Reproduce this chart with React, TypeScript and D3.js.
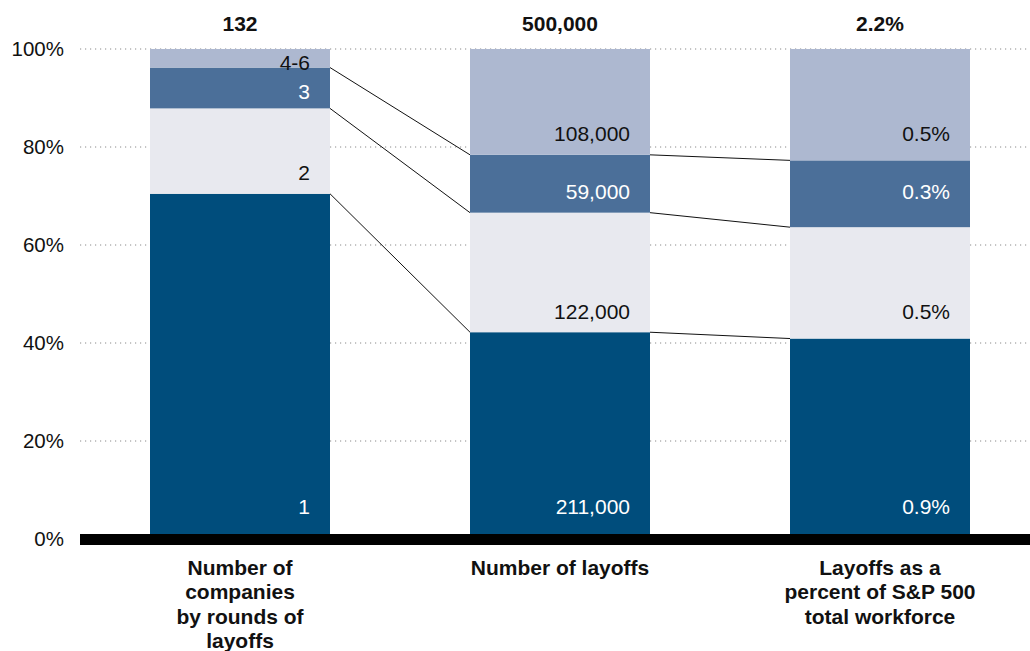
import React from "react";
import * as d3 from "d3";

const categories = ["companies", "layoffs", "workforce"];
const categoryLabels = [
  ["Number of", "companies", "by rounds of", "layoffs"],
  ["Number of layoffs"],
  ["Layoffs as a", "percent of S&P 500", "total workforce"],
];
const totals = ["132", "500,000", "2.2%"];
const rounds = ["1", "2", "3", "4-6"];
const companies = [93, 23, 11, 5];
const layoffs = [211000, 122000, 59000, 108000];
const workforcePct = [0.9, 0.5, 0.3, 0.5];
const layoffLabels = ["211,000", "122,000", "59,000", "108,000"];
const workforceLabels = ["0.9%", "0.5%", "0.3%", "0.5%"];
const yTicks = [0, 0.2, 0.4, 0.6, 0.8, 1];

const segColors = ["#004d7c", "#e8e9ef", "#4b6f99", "#adb8d0"];
const labelColors = ["#ffffff", "#111111", "#ffffff", "#111111"];
const FONT = "'Liberation Sans', Arial, Helvetica, sans-serif";

export default function App() {
  const W = 1030;
  const H = 651;
  const x = d3
    .scaleBand<string>()
    .domain(categories)
    .range([80, 1040])
    .paddingInner(0.4375)
    .paddingOuter(0.21875);
  const y = d3.scaleLinear().domain([0, 1]).range([539, 49]);
  const bw = x.bandwidth();

  const series = [companies, layoffs, workforcePct];
  const labels = [rounds, layoffLabels, workforceLabels];

  const stacks = series.map((vals) => {
    const total = d3.sum(vals);
    let acc = 0;
    return vals.map((v) => {
      const s = acc / total;
      acc += v;
      return { s, e: acc / total };
    });
  });

  const labelY = (stack: { s: number; e: number }[]) =>
    stack.map((seg, i) => {
      if (i === 0) return y(0) - 33;
      const top = y(seg.e);
      const bottom = y(seg.s);
      return Math.max((top + bottom) / 2 + 4, bottom - 21);
    });
  const labelYs = [labelY(stacks[0]), labelY(stacks[1]), labelY(stacks[1])];

  return (
    <svg
      width={W}
      height={H}
      style={{ position: "absolute", left: 0, top: 0, background: "#fff" }}
      fontFamily={FONT}
    >
      {yTicks.map((t) => (
        <g key={t}>
          <line
            x1={80}
            x2={1030}
            y1={y(t)}
            y2={y(t)}
            stroke="#8a8a8a"
            strokeWidth={1}
            strokeDasharray="1.2,3.8"
          />
          <text
            x={64}
            y={y(t) - 1}
            textAnchor="end"
            dominantBaseline="central"
            fontSize={20.5}
            fill="#111"
          >
            {d3.format(".0%")(t)}
          </text>
        </g>
      ))}

      {categories.map((c, ci) => (
        <g key={c}>
          {stacks[ci].map((seg, si) => (
            <rect
              key={si}
              x={x(c)!}
              y={y(seg.e)}
              width={bw}
              height={y(seg.s) - y(seg.e)}
              fill={segColors[si]}
            />
          ))}
          {labels[ci].map((lab, si) => (
            <text
              key={si}
              x={x(c)! + bw - 20}
              y={labelYs[ci][si]}
              textAnchor="end"
              dominantBaseline="central"
              fontSize={21}
              fill={labelColors[si]}
            >
              {lab}
            </text>
          ))}
          <text
            x={x(c)! + bw / 2}
            y={23}
            textAnchor="middle"
            dominantBaseline="central"
            fontSize={21}
            fontWeight="bold"
            fill="#111"
          >
            {totals[ci]}
          </text>
          {categoryLabels[ci].map((line, li) => (
            <text
              key={li}
              x={x(c)! + bw / 2}
              y={567 + li * 24.5}
              textAnchor="middle"
              dominantBaseline="central"
              fontSize={21}
              fontWeight="bold"
              fill="#111"
            >
              {line}
            </text>
          ))}
        </g>
      ))}

      {categories.slice(0, -1).map((c, ci) => {
        const next = categories[ci + 1];
        return stacks[ci].slice(0, -1).map((seg, si) => (
          <line
            key={c + si}
            x1={x(c)! + bw}
            x2={x(next)!}
            y1={y(seg.e)}
            y2={y(stacks[ci + 1][si].e)}
            stroke="#111"
            strokeWidth={1}
          />
        ));
      })}

      <line x1={80} x2={1030} y1={539.5} y2={539.5} stroke="#000" strokeWidth={11} />
    </svg>
  );
}
